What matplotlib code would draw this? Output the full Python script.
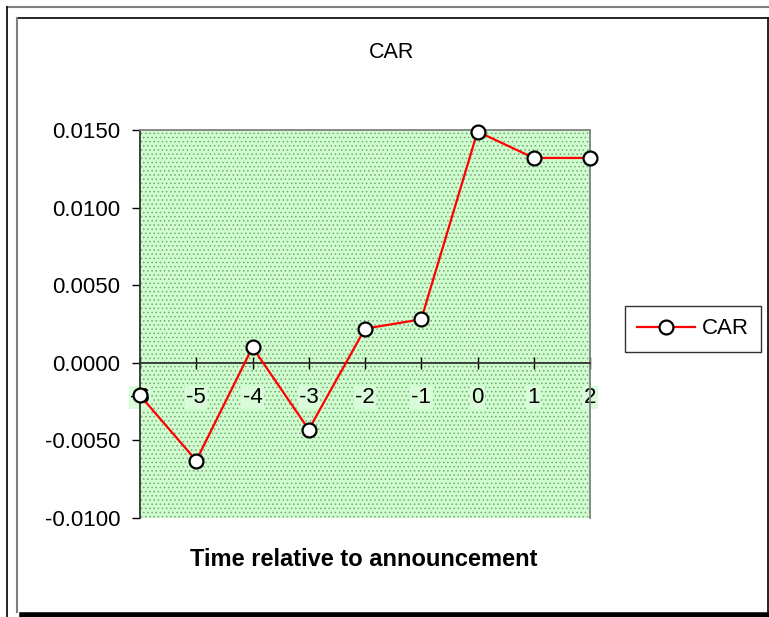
import numpy as np
import matplotlib.pyplot as plt
from matplotlib.lines import Line2D

plt.rcParams['font.family'] = ['Liberation Sans', 'DejaVu Sans']
plt.rcParams['hatch.color'] = '#8a9a8a'
plt.rcParams['hatch.linewidth'] = 0.6

# data
days = [-6, -5, -4, -3, -2, -1, 0, 1, 2]
car = [-0.0021, -0.0063, 0.0010, -0.0043, 0.0022, 0.0028, 0.0149, 0.0132, 0.0132]
yticks = [-0.0100, -0.0050, 0.0000, 0.0050, 0.0100, 0.0150]

W, H = 769, 617
fig = plt.figure(figsize=(W / 100, H / 100), dpi=100)

# frame lines around the chart (pixel coords -> figure fraction)
def hline(y, x0, x1, c, lw):
    fig.add_artist(Line2D([x0 / W, x1 / W], [1 - y / H, 1 - y / H], color=c, lw=lw))

def vline(x, y0, y1, c, lw):
    fig.add_artist(Line2D([x / W, x / W], [1 - y0 / H, 1 - y1 / H], color=c, lw=lw))

hline(7, 7, 769, '#808080', 1.5)
vline(7, 7, 617, 'black', 1.2)
hline(18, 17, 768, 'black', 1.2)
vline(17, 18, 612, '#808080', 1.5)
vline(768, 18, 612, 'black', 1.2)
hline(614.5, 22, 769, 'black', 4)

ax = fig.add_axes([140 / W, 1 - 518 / H, 450 / W, 388 / H])
ax.set_facecolor('#ccffcc')
ax.patch.set_hatch('....')
ax.patch.set_edgecolor('#8a9a8a')

# move the spine first: this resets the tick labels
ax.spines['bottom'].set_position(('data', 0))
ax.spines['bottom'].set_color('#333333')
ax.spines['left'].set_color('#333333')
ax.spines['top'].set_color('#808080')
ax.spines['right'].set_color('#808080')
for s in ax.spines.values():
    s.set_linewidth(1.3)

ax.plot(days, car, color='red', lw=1.6, marker='o', ms=10, mfc='white',
        mec='black', mew=1.6, clip_on=False, zorder=5, label='CAR')

ax.set_xlim(-6, 2)
ax.set_ylim(-0.0100, 0.0150)
ax.set_yticks(yticks)
ax.set_yticklabels(['%.4f' % v for v in yticks], fontsize=16)
ax.set_xticks(days)
ax.set_xticklabels([str(d) for d in days], fontsize=16)
for lab in ax.get_xticklabels():
    lab.set_bbox(dict(facecolor='#d9fbd9', edgecolor='none', pad=1))

ax.tick_params(axis='x', direction='inout', length=9, width=1, pad=13, colors='black')
ax.tick_params(axis='y', direction='out', length=6, width=1, pad=8)

fig.text(392 / W, 1 - 52 / H, 'CAR', ha='center', va='center', fontsize=15.5)
fig.text(364 / W, 1 - 559 / H, 'Time relative to announcement',
         ha='center', va='center', fontsize=17, fontweight='bold')

leg = fig.legend(loc='center', bbox_to_anchor=(693 / W, 1 - 329 / H), fontsize=16,
                 frameon=True, fancybox=False, edgecolor='black', handlelength=2.6,
                 borderpad=0.55, handletextpad=0.3, borderaxespad=0)
leg.get_frame().set_linewidth(1)

fig.savefig('out.png', dpi=100)
